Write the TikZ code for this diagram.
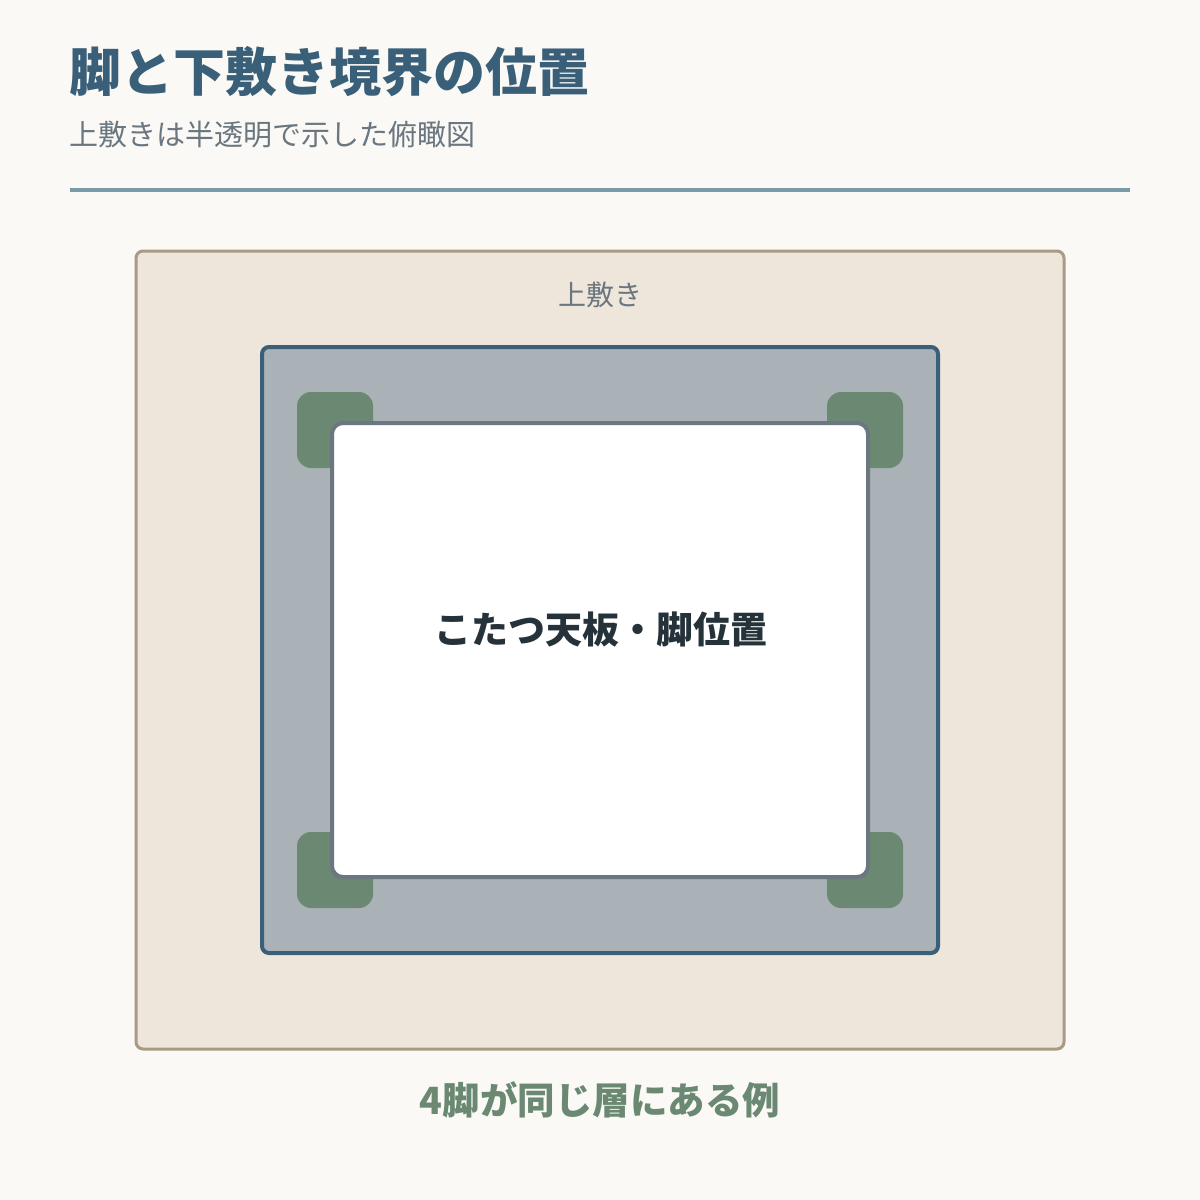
\documentclass[tikz,border=0pt]{standalone}
\usepackage{fontspec}
\newfontfamily\cjk{Noto Sans CJK JP}
\definecolor{bg}{HTML}{FAF9F6}
\definecolor{titlec}{HTML}{3A5F78}
\definecolor{subc}{HTML}{6B7780}
\definecolor{rulec}{HTML}{7A9AAA}
\definecolor{upperfill}{HTML}{EEE6DA}
\definecolor{upperline}{HTML}{AA9A85}
\definecolor{lowerfill}{HTML}{AAB2B8}
\definecolor{legc}{HTML}{6B8872}
\definecolor{topline}{HTML}{6B7780}
\definecolor{darktext}{HTML}{26323A}
\tikzset{
  panel/.style={rounded corners=#1},
  leg/.style={fill=legc, rounded corners=14pt},
  txt/.style={inner sep=0pt, font=\cjk},
}
\begin{document}
\begin{tikzpicture}[x=1pt,y=-1pt]
\fill[bg] (0,0) rectangle (1200,1200);
\useasboundingbox (0,0) rectangle (1200,1200);
% header
\node[txt, anchor=west, text=titlec, font=\cjk\bfseries\fontsize{52}{60}\selectfont] (title) at (69,72) {脚と下敷き境界の位置};
\node[txt, anchor=west, text=subc, font=\cjk\fontsize{29}{35}\selectfont] (subtitle) at (69,135) {上敷きは半透明で示した俯瞰図};
\draw[rulec, line width=4pt] (70,190) coordinate (r1) -- (1130,190) coordinate (r2);
% upper mat
\draw[fill=upperfill, draw=upperline, line width=3pt, panel=7pt] (136,251) rectangle (1064,1049);
\node[txt, text=subc, font=\cjk\fontsize{28}{34}\selectfont] (upper) at (600,295) {上敷き};
% lower mat
\draw[fill=lowerfill, draw=titlec, line width=4pt, panel=7pt] (262,347) rectangle (938,953);
% legs
\fill[leg] (297,392) rectangle (373,468);
\fill[leg] (827,392) rectangle (903,468);
\fill[leg] (297,832) rectangle (373,908);
\fill[leg] (827,832) rectangle (903,908);
% table top
\draw[fill=white, draw=topline, line width=4pt, panel=11pt] (332,423) rectangle (868,877);
\node[txt, text=darktext, font=\cjk\bfseries\fontsize{37}{43}\selectfont] (center) at (601,630) {こたつ天板・脚位置};
% caption
\node[txt, text=legc, font=\cjk\bfseries\fontsize{37.5}{44}\selectfont] (caption) at (600,1100) {4脚が同じ層にある例};
\end{tikzpicture}
\end{document}
